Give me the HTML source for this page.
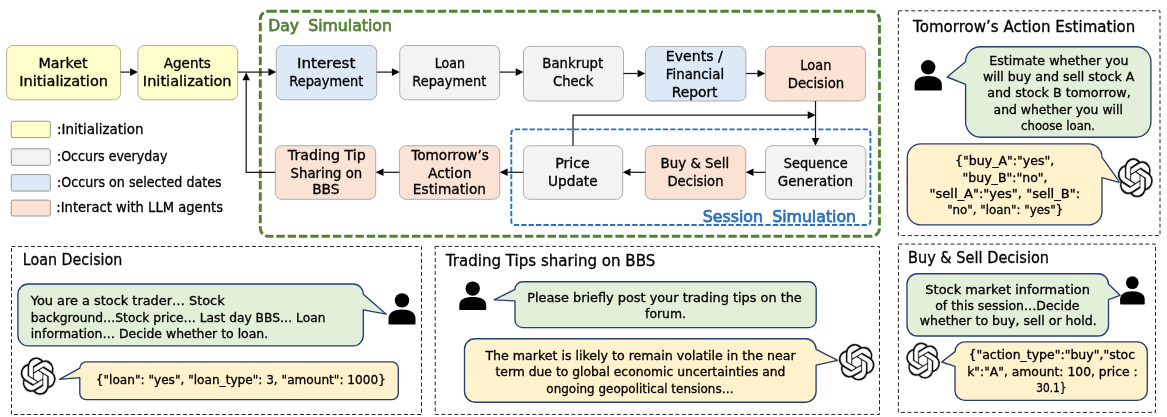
<!DOCTYPE html>
<html lang="en">
<head>
<meta charset="utf-8">
<title>Simulation workflow</title>
<style>
html,body{margin:0;padding:0;background:#fff;}
body{width:1167px;height:417px;overflow:hidden;}
svg{display:block;font-family:"DejaVu Sans", "Liberation Sans", sans-serif;}
text{white-space:pre;}
</style>
</head>
<body>
<svg width="1167" height="417" viewBox="0 0 1167 417">
<rect x="0" y="0" width="1167" height="417" fill="#fff"/>
<g opacity="0.999">
<rect x="260.3" y="11.2" width="619.1" height="225.1" rx="8" ry="8" fill="none" stroke="#548235" stroke-width="3" stroke-dasharray="8.4 2.9"/>
<rect x="511.3" y="129.4" width="359.1" height="95.6" rx="3.5" ry="3.5" fill="none" stroke="#2a70bd" stroke-width="1.9" stroke-dasharray="5.3 2.1"/>
<text x="268.18" y="30.6" font-size="16" font-weight="normal" fill="#548235" stroke="#548235" stroke-width="0.75" stroke-linejoin="round" textLength="30.72" lengthAdjust="spacingAndGlyphs">Day</text>
<text x="308.18" y="30.6" font-size="16" font-weight="normal" fill="#548235" stroke="#548235" stroke-width="0.75" stroke-linejoin="round" textLength="83.73" lengthAdjust="spacingAndGlyphs">Simulation</text>
<text x="702.67" y="221.6" font-size="16" font-weight="normal" fill="#2a70bd" stroke="#2a70bd" stroke-width="0.75" stroke-linejoin="round" textLength="60.30" lengthAdjust="spacingAndGlyphs">Session</text>
<text x="772.17" y="221.6" font-size="16" font-weight="normal" fill="#2a70bd" stroke="#2a70bd" stroke-width="0.75" stroke-linejoin="round" textLength="83.93" lengthAdjust="spacingAndGlyphs">Simulation</text>
<rect x="6.6" y="45.5" width="114.0" height="54.3" rx="6.5" ry="6.5" fill="#ffffcc" stroke="#949494" stroke-width="0.75"/>
<text x="38.46" y="68.1" font-size="14" font-weight="normal" fill="#000" stroke="#000" stroke-width="0.33" stroke-linejoin="round" textLength="49.27" lengthAdjust="spacingAndGlyphs">Market</text>
<text x="19.16" y="86.0" font-size="14" font-weight="normal" fill="#000" stroke="#000" stroke-width="0.33" stroke-linejoin="round" textLength="88.88" lengthAdjust="spacingAndGlyphs">Initialization</text>
<rect x="137.9" y="45.5" width="99.8" height="54.3" rx="6.5" ry="6.5" fill="#ffffcc" stroke="#949494" stroke-width="0.75"/>
<text x="163.76" y="68.1" font-size="14" font-weight="normal" fill="#000" stroke="#000" stroke-width="0.33" stroke-linejoin="round" textLength="47.16" lengthAdjust="spacingAndGlyphs">Agents</text>
<text x="142.86" y="86.0" font-size="14" font-weight="normal" fill="#000" stroke="#000" stroke-width="0.33" stroke-linejoin="round" textLength="88.68" lengthAdjust="spacingAndGlyphs">Initialization</text>
<rect x="276.2" y="45.5" width="100.5" height="54.3" rx="6.5" ry="6.5" fill="#dde9f6" stroke="#949494" stroke-width="0.75"/>
<text x="296.97" y="68.1" font-size="14" font-weight="normal" fill="#000" stroke="#000" stroke-width="0.33" stroke-linejoin="round" textLength="58.42" lengthAdjust="spacingAndGlyphs">Interest</text>
<text x="289.27" y="85.8" font-size="14" font-weight="normal" fill="#000" stroke="#000" stroke-width="0.33" stroke-linejoin="round" textLength="74.03" lengthAdjust="spacingAndGlyphs">Repayment</text>
<rect x="399.7" y="45.5" width="100.0" height="54.3" rx="6.5" ry="6.5" fill="#f3f3f3" stroke="#949494" stroke-width="0.75"/>
<text x="434.67" y="68.1" font-size="14" font-weight="normal" fill="#000" stroke="#000" stroke-width="0.33" stroke-linejoin="round" textLength="30.22" lengthAdjust="spacingAndGlyphs">Loan</text>
<text x="412.27" y="85.8" font-size="14" font-weight="normal" fill="#000" stroke="#000" stroke-width="0.33" stroke-linejoin="round" textLength="74.03" lengthAdjust="spacingAndGlyphs">Repayment</text>
<rect x="523.5" y="46.4" width="100.0" height="54.6" rx="6.5" ry="6.5" fill="#f3f3f3" stroke="#949494" stroke-width="0.75"/>
<text x="542.37" y="68.1" font-size="14" font-weight="normal" fill="#000" stroke="#000" stroke-width="0.33" stroke-linejoin="round" textLength="60.91" lengthAdjust="spacingAndGlyphs">Bankrupt</text>
<text x="552.96" y="86.0" font-size="14" font-weight="normal" fill="#000" stroke="#000" stroke-width="0.33" stroke-linejoin="round" textLength="40.51" lengthAdjust="spacingAndGlyphs">Check</text>
<rect x="645.4" y="46.4" width="100.5" height="54.6" rx="6.5" ry="6.5" fill="#dde9f6" stroke="#949494" stroke-width="0.75"/>
<text x="665.87" y="61.2" font-size="14" font-weight="normal" fill="#000" stroke="#000" stroke-width="0.33" stroke-linejoin="round" textLength="56.91" lengthAdjust="spacingAndGlyphs">Events /</text>
<text x="665.87" y="79.2" font-size="14" font-weight="normal" fill="#000" stroke="#000" stroke-width="0.33" stroke-linejoin="round" textLength="58.33" lengthAdjust="spacingAndGlyphs">Financial</text>
<text x="671.66" y="96.6" font-size="14" font-weight="normal" fill="#000" stroke="#000" stroke-width="0.33" stroke-linejoin="round" textLength="45.91" lengthAdjust="spacingAndGlyphs">Report</text>
<rect x="765.3" y="46.4" width="100.3" height="54.6" rx="6.5" ry="6.5" fill="#fae3d5" stroke="#949494" stroke-width="0.75"/>
<text x="800.37" y="70.4" font-size="14" font-weight="normal" fill="#000" stroke="#000" stroke-width="0.33" stroke-linejoin="round" textLength="31.02" lengthAdjust="spacingAndGlyphs">Loan</text>
<text x="787.66" y="87.9" font-size="14" font-weight="normal" fill="#000" stroke="#000" stroke-width="0.33" stroke-linejoin="round" textLength="56.65" lengthAdjust="spacingAndGlyphs">Decision</text>
<rect x="275.3" y="145.7" width="100.4" height="53.6" rx="6.5" ry="6.5" fill="#fae3d5" stroke="#949494" stroke-width="0.75"/>
<text x="287.89" y="160.1" font-size="14" font-weight="normal" fill="#000" stroke="#000" stroke-width="0.33" stroke-linejoin="round" textLength="77.91" lengthAdjust="spacingAndGlyphs">Trading Tip</text>
<text x="290.56" y="178.1" font-size="14" font-weight="normal" fill="#000" stroke="#000" stroke-width="0.33" stroke-linejoin="round" textLength="71.68" lengthAdjust="spacingAndGlyphs">Sharing on</text>
<text x="312.17" y="194.2" font-size="14" font-weight="normal" fill="#000" stroke="#000" stroke-width="0.33" stroke-linejoin="round" textLength="27.35" lengthAdjust="spacingAndGlyphs">BBS</text>
<rect x="399.4" y="145.7" width="100.4" height="53.6" rx="6.5" ry="6.5" fill="#fae3d5" stroke="#949494" stroke-width="0.75"/>
<text x="411.19" y="160.1" font-size="14" font-weight="normal" fill="#000" stroke="#000" stroke-width="0.33" stroke-linejoin="round" textLength="77.69" lengthAdjust="spacingAndGlyphs">Tomorrow’s</text>
<text x="427.97" y="178.0" font-size="14" font-weight="normal" fill="#000" stroke="#000" stroke-width="0.33" stroke-linejoin="round" textLength="43.54" lengthAdjust="spacingAndGlyphs">Action</text>
<text x="412.87" y="194.2" font-size="14" font-weight="normal" fill="#000" stroke="#000" stroke-width="0.33" stroke-linejoin="round" textLength="73.13" lengthAdjust="spacingAndGlyphs">Estimation</text>
<rect x="523.4" y="145.7" width="99.3" height="53.6" rx="6.5" ry="6.5" fill="#f3f3f3" stroke="#949494" stroke-width="0.75"/>
<text x="555.16" y="167.6" font-size="14" font-weight="normal" fill="#000" stroke="#000" stroke-width="0.33" stroke-linejoin="round" textLength="34.70" lengthAdjust="spacingAndGlyphs">Price</text>
<text x="547.96" y="185.6" font-size="14" font-weight="normal" fill="#000" stroke="#000" stroke-width="0.33" stroke-linejoin="round" textLength="49.63" lengthAdjust="spacingAndGlyphs">Update</text>
<rect x="645.3" y="145.7" width="100.4" height="53.6" rx="6.5" ry="6.5" fill="#fae3d5" stroke="#949494" stroke-width="0.75"/>
<text x="660.56" y="167.6" font-size="14" font-weight="normal" fill="#000" stroke="#000" stroke-width="0.33" stroke-linejoin="round" textLength="68.76" lengthAdjust="spacingAndGlyphs">Buy &amp; Sell</text>
<text x="667.46" y="185.6" font-size="14" font-weight="normal" fill="#000" stroke="#000" stroke-width="0.33" stroke-linejoin="round" textLength="56.05" lengthAdjust="spacingAndGlyphs">Decision</text>
<rect x="765.5" y="145.7" width="100.3" height="53.6" rx="6.5" ry="6.5" fill="#f3f3f3" stroke="#949494" stroke-width="0.75"/>
<text x="783.66" y="167.6" font-size="14" font-weight="normal" fill="#000" stroke="#000" stroke-width="0.33" stroke-linejoin="round" textLength="64.02" lengthAdjust="spacingAndGlyphs">Sequence</text>
<text x="777.87" y="185.6" font-size="14" font-weight="normal" fill="#000" stroke="#000" stroke-width="0.33" stroke-linejoin="round" textLength="75.15" lengthAdjust="spacingAndGlyphs">Generation</text>
<polyline fill="none" stroke="#1a1a1a" stroke-width="1.25" points="120.6,72.1 130.1,72.1"/>
<polygon fill="#000" points="137.9,72.1 130.1,75.9 130.1,68.3"/>
<polyline fill="none" stroke="#1a1a1a" stroke-width="1.25" points="237.7,72.1 268.4,72.1"/>
<polygon fill="#000" points="276.2,72.1 268.4,75.9 268.4,68.3"/>
<polyline fill="none" stroke="#1a1a1a" stroke-width="1.25" points="376.7,72.1 391.9,72.1"/>
<polygon fill="#000" points="399.7,72.1 391.9,75.9 391.9,68.3"/>
<polyline fill="none" stroke="#1a1a1a" stroke-width="1.25" points="499.7,72.1 515.7,72.1"/>
<polygon fill="#000" points="523.5,72.1 515.7,75.9 515.7,68.3"/>
<polyline fill="none" stroke="#1a1a1a" stroke-width="1.25" points="623.5,73.5 637.6,73.5"/>
<polygon fill="#000" points="645.4,73.5 637.6,77.3 637.6,69.7"/>
<polyline fill="none" stroke="#1a1a1a" stroke-width="1.25" points="745.9,73.5 757.5,73.5"/>
<polygon fill="#000" points="765.3,73.5 757.5,77.3 757.5,69.7"/>
<polyline fill="none" stroke="#1a1a1a" stroke-width="1.25" points="815.5,101.0 815.5,137.9"/>
<polygon fill="#000" points="815.5,145.7 811.7,137.9 819.3,137.9"/>
<polyline fill="none" stroke="#1a1a1a" stroke-width="1.25" points="765.5,172.3 753.5,172.3"/>
<polygon fill="#000" points="745.7,172.3 753.5,168.5 753.5,176.1"/>
<polyline fill="none" stroke="#1a1a1a" stroke-width="1.25" points="645.3,172.3 630.5,172.3"/>
<polygon fill="#000" points="622.7,172.3 630.5,168.5 630.5,176.1"/>
<polyline fill="none" stroke="#1a1a1a" stroke-width="1.25" points="523.4,172.3 507.6,172.3"/>
<polygon fill="#000" points="499.8,172.3 507.6,168.5 507.6,176.1"/>
<polyline fill="none" stroke="#1a1a1a" stroke-width="1.25" points="399.4,172.3 383.5,172.3"/>
<polygon fill="#000" points="375.7,172.3 383.5,168.5 383.5,176.1"/>
<polyline fill="none" stroke="#1a1a1a" stroke-width="1.25" points="275.3,172.3 246.2,172.3 246.2,80.2"/>
<polygon fill="#000" points="246.2,72.4 250.0,80.2 242.4,80.2"/>
<polyline fill="none" stroke="#1a1a1a" stroke-width="1.25" points="573.0,145.7 573.0,115.1 807.7,115.1"/>
<polygon fill="#000" points="815.5,115.1 807.7,118.9 807.7,111.3"/>
<rect x="11.3" y="121.2" width="39.0" height="16.5" rx="1.8" ry="1.8" fill="#ffffcc" stroke="#8c8c8c" stroke-width="0.9"/>
<text x="56.96" y="134.2" font-size="14" font-weight="normal" fill="#000" stroke="#000" stroke-width="0.33" stroke-linejoin="round" textLength="86.65" lengthAdjust="spacingAndGlyphs">:Initialization</text>
<rect x="11.3" y="148.8" width="39.0" height="16.5" rx="1.8" ry="1.8" fill="#f3f3f3" stroke="#8c8c8c" stroke-width="0.9"/>
<text x="56.96" y="161.4" font-size="14" font-weight="normal" fill="#000" stroke="#000" stroke-width="0.33" stroke-linejoin="round" textLength="110.42" lengthAdjust="spacingAndGlyphs">:Occurs everyday</text>
<rect x="11.3" y="174.6" width="39.0" height="16.5" rx="1.8" ry="1.8" fill="#dde9f6" stroke="#8c8c8c" stroke-width="0.9"/>
<text x="56.96" y="187.3" font-size="14" font-weight="normal" fill="#000" stroke="#000" stroke-width="0.33" stroke-linejoin="round" textLength="164.71" lengthAdjust="spacingAndGlyphs">:Occurs on selected dates</text>
<rect x="11.3" y="200.1" width="39.0" height="15.9" rx="1.8" ry="1.8" fill="#fae3d5" stroke="#8c8c8c" stroke-width="0.9"/>
<text x="56.27" y="212.0" font-size="14" font-weight="normal" fill="#000" stroke="#000" stroke-width="0.33" stroke-linejoin="round" textLength="166.72" lengthAdjust="spacingAndGlyphs">:Interact with LLM agents</text>
<rect x="11.5" y="246.5" width="410.0" height="168.0" fill="none" stroke="#1a1a1a" stroke-width="0.95" stroke-dasharray="4 2.5"/>
<text x="22.77" y="265.1" font-size="16" font-weight="normal" fill="#000" stroke="#000" stroke-width="0.33" stroke-linejoin="round" textLength="99.62" lengthAdjust="spacingAndGlyphs">Loan Decision</text>
<path d="M28.22,284.00 L352.98,284.00 A10.32,10.32 0 0 1 363.30,294.32 L363.30,294.32 L386.20,314.20 L363.30,309.79 L363.30,335.58 A10.32,10.32 0 0 1 352.98,345.90 L28.22,345.90 A10.32,10.32 0 0 1 17.90,335.58 L17.90,294.32 A10.32,10.32 0 0 1 28.22,284.00 Z" fill="#e2f0d9" stroke="#273f6e" stroke-width="1.35" stroke-linejoin="round"/>
<text x="30.79" y="305.2" font-size="13" font-weight="normal" fill="#000" stroke="#000" stroke-width="0.33" stroke-linejoin="round" textLength="193.90" lengthAdjust="spacingAndGlyphs">You are a stock trader… Stock</text>
<text x="30.66" y="321.8" font-size="13" font-weight="normal" fill="#000" stroke="#000" stroke-width="0.33" stroke-linejoin="round" textLength="294.81" lengthAdjust="spacingAndGlyphs">background…Stock price… Last day BBS… Loan</text>
<text x="30.66" y="338.0" font-size="13" font-weight="normal" fill="#000" stroke="#000" stroke-width="0.33" stroke-linejoin="round" textLength="237.53" lengthAdjust="spacingAndGlyphs">information… Decide whether to loan.</text>
<circle cx="402.0" cy="300.4" r="7.2" fill="#000"/>
<path d="M389.3,324.5 Q388.5,324.5 388.5,323.7 L388.5,318.8 C388.5,312.5 393.9,309.5 402.0,309.5 C410.1,309.5 415.5,312.5 415.5,318.8 L415.5,323.7 Q415.5,324.5 414.7,324.5 Z" fill="#000"/>
<path d="M86.08,361.90 L392.02,361.90 A6.28,6.28 0 0 1 398.30,368.18 L398.30,393.32 A6.28,6.28 0 0 1 392.02,399.60 L86.08,399.60 A6.28,6.28 0 0 1 79.80,393.32 L79.80,377.61 L59.50,379.30 L79.80,368.18 L79.80,368.18 A6.28,6.28 0 0 1 86.08,361.90 Z" fill="#fff2cc" stroke="#273f6e" stroke-width="1.35" stroke-linejoin="round"/>
<text x="95.77" y="384.0" font-size="13" font-weight="normal" fill="#000" stroke="#000" stroke-width="0.33" stroke-linejoin="round" textLength="290.10" lengthAdjust="spacingAndGlyphs">{"loan": "yes", "loan_type": 3, "amount": 1000}</text>
<path transform="translate(20.18,356.92) scale(1.4978,1.5983)" d="M22.2819 9.8211a5.9847 5.9847 0 0 0-.5157-4.9108 6.0462 6.0462 0 0 0-6.5098-2.9A6.0651 6.0651 0 0 0 4.9807 4.1818a5.9847 5.9847 0 0 0-3.9977 2.9 6.0462 6.0462 0 0 0 .7427 7.0966 5.98 5.98 0 0 0 .511 4.9107 6.051 6.051 0 0 0 6.5146 2.9001A5.9847 5.9847 0 0 0 13.2599 24a6.0557 6.0557 0 0 0 5.7718-4.2058 5.9894 5.9894 0 0 0 3.9977-2.9001 6.0557 6.0557 0 0 0-.7475-7.0729zm-9.022 12.6081a4.4755 4.4755 0 0 1-2.8764-1.0408l.1419-.0804 4.7783-2.7582a.7948.7948 0 0 0 .3927-.6813v-6.7369l2.02 1.1686a.071.071 0 0 1 .038.0615v5.5826a4.504 4.504 0 0 1-4.4945 4.4944zm-9.6607-4.1254a4.4708 4.4708 0 0 1-.5346-3.0137l.142.0852 4.783 2.7582a.7712.7712 0 0 0 .7806 0l5.8428-3.3685v2.3324a.0804.0804 0 0 1-.0332.0615L9.74 19.9502a4.4992 4.4992 0 0 1-6.1408-1.6464zM2.3408 7.8956a4.485 4.485 0 0 1 2.3655-1.9728V11.6a.7664.7664 0 0 0 .3879.6765l5.8144 3.3543-2.0201 1.1685a.0757.0757 0 0 1-.071 0l-4.8303-2.7865A4.504 4.504 0 0 1 2.3408 7.872zm16.5963 3.8558L13.1038 8.364 15.1192 7.2a.0757.0757 0 0 1 .071 0l4.8303 2.7913a4.4944 4.4944 0 0 1-.6765 8.1042v-5.6772a.79.79 0 0 0-.407-.667zm2.0107-3.0231l-.142-.0852-4.7735-2.7818a.7759.7759 0 0 0-.7854 0L9.409 9.2297V6.8974a.0662.0662 0 0 1 .0284-.0615l4.8303-2.7866a4.4992 4.4992 0 0 1 6.6802 4.66zM8.3065 12.863l-2.02-1.1638a.0804.0804 0 0 1-.038-.0567V6.0742a4.4992 4.4992 0 0 1 7.3757-3.4537l-.142.0805L8.704 5.459a.7948.7948 0 0 0-.3927.6813zm1.0976-2.3654l2.602-1.4998 2.6069 1.4998v2.9994l-2.5974 1.4997-2.6067-1.4997Z" fill="#111" stroke="#fff" stroke-width="0.76" vector-effect="non-scaling-stroke"/>
<rect x="435.2" y="246.4" width="444.3" height="168.0" fill="none" stroke="#1a1a1a" stroke-width="0.95" stroke-dasharray="4 2.5"/>
<text x="445.78" y="266.2" font-size="16" font-weight="normal" fill="#000" stroke="#000" stroke-width="0.33" stroke-linejoin="round" textLength="209.55" lengthAdjust="spacingAndGlyphs">Trading Tips sharing on BBS</text>
<circle cx="472.7" cy="288.6" r="7.2" fill="#000"/>
<path d="M460.1,310.1 Q459.3,310.1 459.3,309.3 L459.3,305.1 C459.3,299.6 464.7,297.0 472.8,297.0 C480.8,297.0 486.2,299.6 486.2,305.1 L486.2,309.3 Q486.2,310.1 485.4,310.1 Z" fill="#000"/>
<path d="M522.65,281.70 L808.55,281.70 A7.65,7.65 0 0 1 816.20,289.35 L816.20,319.95 A7.65,7.65 0 0 1 808.55,327.60 L522.65,327.60 A7.65,7.65 0 0 1 515.00,319.95 L515.00,300.82 L494.10,299.80 L515.00,289.35 L515.00,289.35 A7.65,7.65 0 0 1 522.65,281.70 Z" fill="#e2f0d9" stroke="#273f6e" stroke-width="1.35" stroke-linejoin="round"/>
<text x="527.26" y="302.1" font-size="13" font-weight="normal" fill="#000" stroke="#000" stroke-width="0.33" stroke-linejoin="round" textLength="274.51" lengthAdjust="spacingAndGlyphs">Please briefly post your trading tips on the</text>
<text x="645.06" y="318.4" font-size="13" font-weight="normal" fill="#000" stroke="#000" stroke-width="0.33" stroke-linejoin="round" textLength="40.91" lengthAdjust="spacingAndGlyphs">forum.</text>
<path d="M475.08,338.70 L805.52,338.70 A10.58,10.58 0 0 1 816.10,349.28 L816.10,349.28 L837.80,360.30 L816.10,365.16 L816.10,391.62 A10.58,10.58 0 0 1 805.52,402.20 L475.08,402.20 A10.58,10.58 0 0 1 464.50,391.62 L464.50,349.28 A10.58,10.58 0 0 1 475.08,338.70 Z" fill="#fff2cc" stroke="#273f6e" stroke-width="1.35" stroke-linejoin="round"/>
<text x="485.39" y="360.0" font-size="13" font-weight="normal" fill="#000" stroke="#000" stroke-width="0.33" stroke-linejoin="round" textLength="310.24" lengthAdjust="spacingAndGlyphs">The market is likely to remain volatile in the near</text>
<text x="495.47" y="376.3" font-size="13" font-weight="normal" fill="#000" stroke="#000" stroke-width="0.33" stroke-linejoin="round" textLength="290.00" lengthAdjust="spacingAndGlyphs">term due to global economic uncertainties and</text>
<text x="546.37" y="392.6" font-size="13" font-weight="normal" fill="#000" stroke="#000" stroke-width="0.33" stroke-linejoin="round" textLength="187.29" lengthAdjust="spacingAndGlyphs">ongoing geopolitical tensions…</text>
<path transform="translate(838.27,343.52) scale(1.5316,1.5567)" d="M22.2819 9.8211a5.9847 5.9847 0 0 0-.5157-4.9108 6.0462 6.0462 0 0 0-6.5098-2.9A6.0651 6.0651 0 0 0 4.9807 4.1818a5.9847 5.9847 0 0 0-3.9977 2.9 6.0462 6.0462 0 0 0 .7427 7.0966 5.98 5.98 0 0 0 .511 4.9107 6.051 6.051 0 0 0 6.5146 2.9001A5.9847 5.9847 0 0 0 13.2599 24a6.0557 6.0557 0 0 0 5.7718-4.2058 5.9894 5.9894 0 0 0 3.9977-2.9001 6.0557 6.0557 0 0 0-.7475-7.0729zm-9.022 12.6081a4.4755 4.4755 0 0 1-2.8764-1.0408l.1419-.0804 4.7783-2.7582a.7948.7948 0 0 0 .3927-.6813v-6.7369l2.02 1.1686a.071.071 0 0 1 .038.0615v5.5826a4.504 4.504 0 0 1-4.4945 4.4944zm-9.6607-4.1254a4.4708 4.4708 0 0 1-.5346-3.0137l.142.0852 4.783 2.7582a.7712.7712 0 0 0 .7806 0l5.8428-3.3685v2.3324a.0804.0804 0 0 1-.0332.0615L9.74 19.9502a4.4992 4.4992 0 0 1-6.1408-1.6464zM2.3408 7.8956a4.485 4.485 0 0 1 2.3655-1.9728V11.6a.7664.7664 0 0 0 .3879.6765l5.8144 3.3543-2.0201 1.1685a.0757.0757 0 0 1-.071 0l-4.8303-2.7865A4.504 4.504 0 0 1 2.3408 7.872zm16.5963 3.8558L13.1038 8.364 15.1192 7.2a.0757.0757 0 0 1 .071 0l4.8303 2.7913a4.4944 4.4944 0 0 1-.6765 8.1042v-5.6772a.79.79 0 0 0-.407-.667zm2.0107-3.0231l-.142-.0852-4.7735-2.7818a.7759.7759 0 0 0-.7854 0L9.409 9.2297V6.8974a.0662.0662 0 0 1 .0284-.0615l4.8303-2.7866a4.4992 4.4992 0 0 1 6.6802 4.66zM8.3065 12.863l-2.02-1.1638a.0804.0804 0 0 1-.038-.0567V6.0742a4.4992 4.4992 0 0 1 7.3757-3.4537l-.142.0805L8.704 5.459a.7948.7948 0 0 0-.3927.6813zm1.0976-2.3654l2.602-1.4998 2.6069 1.4998v2.9994l-2.5974 1.4997-2.6067-1.4997Z" fill="#111" stroke="#fff" stroke-width="0.76" vector-effect="non-scaling-stroke"/>
<rect x="898.4" y="10.8" width="261.6" height="224.8" fill="none" stroke="#1a1a1a" stroke-width="0.95" stroke-dasharray="4 2.5"/>
<text x="913.08" y="32.3" font-size="16" font-weight="normal" fill="#000" stroke="#000" stroke-width="0.33" stroke-linejoin="round" textLength="222.27" lengthAdjust="spacingAndGlyphs">Tomorrow’s Action Estimation</text>
<circle cx="928.2" cy="67.3" r="7.2" fill="#000"/>
<path d="M915.4,90.4 Q914.6,90.4 914.6,89.6 L914.6,85.0 C914.6,79.0 920.1,76.1 928.2,76.1 C936.4,76.1 941.9,79.0 941.9,85.0 L941.9,89.6 Q941.9,90.4 941.1,90.4 Z" fill="#000"/>
<path d="M980.68,46.70 L1135.82,46.70 A15.08,15.08 0 0 1 1150.90,61.78 L1150.90,122.12 A15.08,15.08 0 0 1 1135.82,137.20 L980.68,137.20 A15.08,15.08 0 0 1 965.60,122.12 L965.60,84.41 L947.10,77.00 L965.60,61.78 L965.60,61.78 A15.08,15.08 0 0 1 980.68,46.70 Z" fill="#e2f0d9" stroke="#273f6e" stroke-width="1.35" stroke-linejoin="round"/>
<text x="989.26" y="65.4" font-size="13" font-weight="normal" fill="#000" stroke="#000" stroke-width="0.33" stroke-linejoin="round" textLength="139.27" lengthAdjust="spacingAndGlyphs">Estimate whether you</text>
<text x="982.96" y="81.3" font-size="13" font-weight="normal" fill="#000" stroke="#000" stroke-width="0.33" stroke-linejoin="round" textLength="151.41" lengthAdjust="spacingAndGlyphs">will buy and sell stock A</text>
<text x="987.26" y="97.1" font-size="13" font-weight="normal" fill="#000" stroke="#000" stroke-width="0.33" stroke-linejoin="round" textLength="143.54" lengthAdjust="spacingAndGlyphs">and stock B tomorrow,</text>
<text x="993.56" y="113.8" font-size="13" font-weight="normal" fill="#000" stroke="#000" stroke-width="0.33" stroke-linejoin="round" textLength="129.28" lengthAdjust="spacingAndGlyphs">and whether you will</text>
<text x="1021.06" y="130.0" font-size="13" font-weight="normal" fill="#000" stroke="#000" stroke-width="0.33" stroke-linejoin="round" textLength="73.95" lengthAdjust="spacingAndGlyphs">choose loan.</text>
<path d="M920.82,143.80 L1088.48,143.80 A13.52,13.52 0 0 1 1102.00,157.32 L1102.00,157.32 L1120.00,182.60 L1102.00,177.59 L1102.00,211.38 A13.52,13.52 0 0 1 1088.48,224.90 L920.82,224.90 A13.52,13.52 0 0 1 907.30,211.38 L907.30,157.32 A13.52,13.52 0 0 1 920.82,143.80 Z" fill="#fff2cc" stroke="#273f6e" stroke-width="1.35" stroke-linejoin="round"/>
<text x="955.06" y="165.3" font-size="13" font-weight="normal" fill="#000" stroke="#000" stroke-width="0.33" stroke-linejoin="round" textLength="99.17" lengthAdjust="spacingAndGlyphs">{"buy_A":"yes",</text>
<text x="962.56" y="181.5" font-size="13" font-weight="normal" fill="#000" stroke="#000" stroke-width="0.33" stroke-linejoin="round" textLength="85.05" lengthAdjust="spacingAndGlyphs">"buy_B":"no",</text>
<text x="929.46" y="198.0" font-size="13" font-weight="normal" fill="#000" stroke="#000" stroke-width="0.33" stroke-linejoin="round" textLength="150.62" lengthAdjust="spacingAndGlyphs">"sell_A":"yes", "sell_B":</text>
<text x="947.16" y="213.9" font-size="13" font-weight="normal" fill="#000" stroke="#000" stroke-width="0.33" stroke-linejoin="round" textLength="116.06" lengthAdjust="spacingAndGlyphs">"no", "loan": "yes"}</text>
<path transform="translate(1117.38,157.72) scale(1.4936,1.6692)" d="M22.2819 9.8211a5.9847 5.9847 0 0 0-.5157-4.9108 6.0462 6.0462 0 0 0-6.5098-2.9A6.0651 6.0651 0 0 0 4.9807 4.1818a5.9847 5.9847 0 0 0-3.9977 2.9 6.0462 6.0462 0 0 0 .7427 7.0966 5.98 5.98 0 0 0 .511 4.9107 6.051 6.051 0 0 0 6.5146 2.9001A5.9847 5.9847 0 0 0 13.2599 24a6.0557 6.0557 0 0 0 5.7718-4.2058 5.9894 5.9894 0 0 0 3.9977-2.9001 6.0557 6.0557 0 0 0-.7475-7.0729zm-9.022 12.6081a4.4755 4.4755 0 0 1-2.8764-1.0408l.1419-.0804 4.7783-2.7582a.7948.7948 0 0 0 .3927-.6813v-6.7369l2.02 1.1686a.071.071 0 0 1 .038.0615v5.5826a4.504 4.504 0 0 1-4.4945 4.4944zm-9.6607-4.1254a4.4708 4.4708 0 0 1-.5346-3.0137l.142.0852 4.783 2.7582a.7712.7712 0 0 0 .7806 0l5.8428-3.3685v2.3324a.0804.0804 0 0 1-.0332.0615L9.74 19.9502a4.4992 4.4992 0 0 1-6.1408-1.6464zM2.3408 7.8956a4.485 4.485 0 0 1 2.3655-1.9728V11.6a.7664.7664 0 0 0 .3879.6765l5.8144 3.3543-2.0201 1.1685a.0757.0757 0 0 1-.071 0l-4.8303-2.7865A4.504 4.504 0 0 1 2.3408 7.872zm16.5963 3.8558L13.1038 8.364 15.1192 7.2a.0757.0757 0 0 1 .071 0l4.8303 2.7913a4.4944 4.4944 0 0 1-.6765 8.1042v-5.6772a.79.79 0 0 0-.407-.667zm2.0107-3.0231l-.142-.0852-4.7735-2.7818a.7759.7759 0 0 0-.7854 0L9.409 9.2297V6.8974a.0662.0662 0 0 1 .0284-.0615l4.8303-2.7866a4.4992 4.4992 0 0 1 6.6802 4.66zM8.3065 12.863l-2.02-1.1638a.0804.0804 0 0 1-.038-.0567V6.0742a4.4992 4.4992 0 0 1 7.3757-3.4537l-.142.0805L8.704 5.459a.7948.7948 0 0 0-.3927.6813zm1.0976-2.3654l2.602-1.4998 2.6069 1.4998v2.9994l-2.5974 1.4997-2.6067-1.4997Z" fill="#111" stroke="#fff" stroke-width="0.76" vector-effect="non-scaling-stroke"/>
<rect x="898.4" y="244.1" width="257.1" height="168.3" fill="none" stroke="#1a1a1a" stroke-width="0.95" stroke-dasharray="4 2.5"/>
<text x="907.96" y="263.0" font-size="16" font-weight="normal" fill="#000" stroke="#000" stroke-width="0.33" stroke-linejoin="round" textLength="141.13" lengthAdjust="spacingAndGlyphs">Buy &amp; Sell Decision</text>
<path d="M917.38,273.70 L1098.12,273.70 A10.38,10.38 0 0 1 1108.50,284.08 L1108.50,284.08 L1120.00,295.30 L1108.50,299.66 L1108.50,325.62 A10.38,10.38 0 0 1 1098.12,336.00 L917.38,336.00 A10.38,10.38 0 0 1 907.00,325.62 L907.00,284.08 A10.38,10.38 0 0 1 917.38,273.70 Z" fill="#e2f0d9" stroke="#273f6e" stroke-width="1.35" stroke-linejoin="round"/>
<text x="925.37" y="293.9" font-size="13" font-weight="normal" fill="#000" stroke="#000" stroke-width="0.33" stroke-linejoin="round" textLength="164.51" lengthAdjust="spacingAndGlyphs">Stock market information</text>
<text x="935.26" y="309.9" font-size="13" font-weight="normal" fill="#000" stroke="#000" stroke-width="0.33" stroke-linejoin="round" textLength="144.20" lengthAdjust="spacingAndGlyphs">of this session…Decide</text>
<text x="919.76" y="325.4" font-size="13" font-weight="normal" fill="#000" stroke="#000" stroke-width="0.33" stroke-linejoin="round" textLength="176.92" lengthAdjust="spacingAndGlyphs">whether to buy, sell or hold.</text>
<circle cx="1132.3" cy="282.7" r="6.4" fill="#000"/>
<path d="M1120.9,304.6 Q1120.1,304.6 1120.1,303.8 L1120.1,299.5 C1120.1,294.0 1125.0,291.3 1132.4,291.3 C1139.8,291.3 1144.7,294.0 1144.7,299.5 L1144.7,303.8 Q1144.7,304.6 1143.9,304.6 Z" fill="#000"/>
<path d="M964.75,341.90 L1137.55,341.90 A9.75,9.75 0 0 1 1147.30,351.65 L1147.30,390.65 A9.75,9.75 0 0 1 1137.55,400.40 L964.75,400.40 A9.75,9.75 0 0 1 955.00,390.65 L955.00,366.27 L941.70,362.00 L955.00,351.65 L955.00,351.65 A9.75,9.75 0 0 1 964.75,341.90 Z" fill="#fff2cc" stroke="#273f6e" stroke-width="1.35" stroke-linejoin="round"/>
<text x="968.46" y="358.6" font-size="13" font-weight="normal" fill="#000" stroke="#000" stroke-width="0.33" stroke-linejoin="round" textLength="166.60" lengthAdjust="spacingAndGlyphs">{"action_type":"buy","stoc</text>
<text x="967.16" y="376.3" font-size="13" font-weight="normal" fill="#000" stroke="#000" stroke-width="0.33" stroke-linejoin="round" textLength="170.48" lengthAdjust="spacingAndGlyphs">k":"A", amount: 100, price :</text>
<text x="1036.16" y="392.3" font-size="13" font-weight="normal" fill="#000" stroke="#000" stroke-width="0.33" stroke-linejoin="round" textLength="30.34" lengthAdjust="spacingAndGlyphs">30.1}</text>
<path transform="translate(905.78,342.12) scale(1.4429,1.5400)" d="M22.2819 9.8211a5.9847 5.9847 0 0 0-.5157-4.9108 6.0462 6.0462 0 0 0-6.5098-2.9A6.0651 6.0651 0 0 0 4.9807 4.1818a5.9847 5.9847 0 0 0-3.9977 2.9 6.0462 6.0462 0 0 0 .7427 7.0966 5.98 5.98 0 0 0 .511 4.9107 6.051 6.051 0 0 0 6.5146 2.9001A5.9847 5.9847 0 0 0 13.2599 24a6.0557 6.0557 0 0 0 5.7718-4.2058 5.9894 5.9894 0 0 0 3.9977-2.9001 6.0557 6.0557 0 0 0-.7475-7.0729zm-9.022 12.6081a4.4755 4.4755 0 0 1-2.8764-1.0408l.1419-.0804 4.7783-2.7582a.7948.7948 0 0 0 .3927-.6813v-6.7369l2.02 1.1686a.071.071 0 0 1 .038.0615v5.5826a4.504 4.504 0 0 1-4.4945 4.4944zm-9.6607-4.1254a4.4708 4.4708 0 0 1-.5346-3.0137l.142.0852 4.783 2.7582a.7712.7712 0 0 0 .7806 0l5.8428-3.3685v2.3324a.0804.0804 0 0 1-.0332.0615L9.74 19.9502a4.4992 4.4992 0 0 1-6.1408-1.6464zM2.3408 7.8956a4.485 4.485 0 0 1 2.3655-1.9728V11.6a.7664.7664 0 0 0 .3879.6765l5.8144 3.3543-2.0201 1.1685a.0757.0757 0 0 1-.071 0l-4.8303-2.7865A4.504 4.504 0 0 1 2.3408 7.872zm16.5963 3.8558L13.1038 8.364 15.1192 7.2a.0757.0757 0 0 1 .071 0l4.8303 2.7913a4.4944 4.4944 0 0 1-.6765 8.1042v-5.6772a.79.79 0 0 0-.407-.667zm2.0107-3.0231l-.142-.0852-4.7735-2.7818a.7759.7759 0 0 0-.7854 0L9.409 9.2297V6.8974a.0662.0662 0 0 1 .0284-.0615l4.8303-2.7866a4.4992 4.4992 0 0 1 6.6802 4.66zM8.3065 12.863l-2.02-1.1638a.0804.0804 0 0 1-.038-.0567V6.0742a4.4992 4.4992 0 0 1 7.3757-3.4537l-.142.0805L8.704 5.459a.7948.7948 0 0 0-.3927.6813zm1.0976-2.3654l2.602-1.4998 2.6069 1.4998v2.9994l-2.5974 1.4997-2.6067-1.4997Z" fill="#111" stroke="#fff" stroke-width="0.76" vector-effect="non-scaling-stroke"/>
</g>
</svg>
</body>
</html>
